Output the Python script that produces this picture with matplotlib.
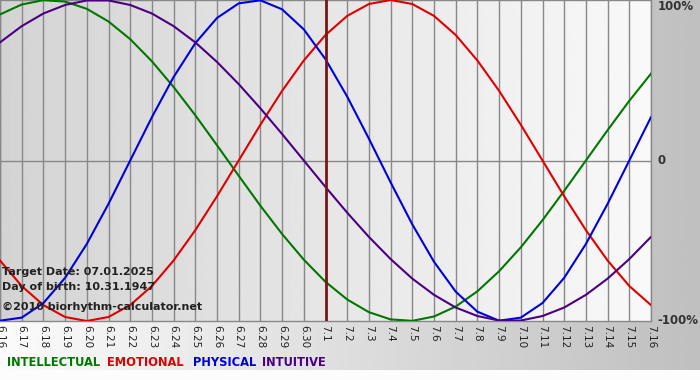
import matplotlib
matplotlib.use("Agg")
import matplotlib.pyplot as plt
import numpy as np

# day labels 6.16 -> 7.16, target day 7.1
days = ["6.16", "6.17", "6.18", "6.19", "6.20", "6.21", "6.22", "6.23", "6.24", "6.25",
        "6.26", "6.27", "6.28", "6.29", "6.30", "7.1", "7.2", "7.3", "7.4", "7.5",
        "7.6", "7.7", "7.8", "7.9", "7.10", "7.11", "7.12", "7.13", "7.14", "7.15", "7.16"]
target_day = "7.1"

# values (-1 .. 1)
physical = [-0.998, -0.979, -0.888, -0.731, -0.520, -0.270, 0.0, 0.270, 0.520, 0.731,
            0.888, 0.979, 0.998, 0.942, 0.817, 0.631, 0.398, 0.136, -0.136, -0.398,
            -0.631, -0.817, -0.942, -0.998, -0.979, -0.888, -0.731, -0.520, -0.270, 0.0, 0.270]
emotional = [-0.623, -0.782, -0.901, -0.975, -1.0, -0.975, -0.901, -0.782, -0.623, -0.434,
             -0.223, 0.0, 0.223, 0.434, 0.623, 0.782, 0.901, 0.975, 1.0, 0.975,
             0.901, 0.782, 0.623, 0.434, 0.223, 0.0, -0.223, -0.434, -0.623, -0.782, -0.901]
intellectual = [0.910, 0.972, 0.999, 0.990, 0.945, 0.866, 0.756, 0.618, 0.458, 0.282,
                0.095, -0.095, -0.282, -0.458, -0.618, -0.756, -0.866, -0.945, -0.990, -0.999,
                -0.972, -0.910, -0.815, -0.690, -0.541, -0.372, -0.189, 0.0, 0.189, 0.372, 0.541]
intuitive = [0.736, 0.837, 0.916, 0.969, 0.997, 0.997, 0.969, 0.916, 0.837, 0.736,
             0.614, 0.476, 0.325, 0.165, 0.0, -0.165, -0.325, -0.476, -0.614, -0.736,
             -0.837, -0.916, -0.969, -0.997, -0.997, -0.969, -0.916, -0.837, -0.736, -0.614, -0.476]

legend_names = ["INTELLECTUAL", "EMOTIONAL", "PHYSICAL", "INTUITIVE"]
colors = {"INTELLECTUAL": "#007800", "EMOTIONAL": "#e00000",
          "PHYSICAL": "#0000dd", "INTUITIVE": "#4b0082"}

W, H = 700, 380
fig = plt.figure(figsize=(W/100, H/100), dpi=100)

# background gradient (white left -> gray right), white strip at bottom
bg = fig.add_axes([0, 0, 1, 1])
bg.set_xlim(0, W)
bg.set_ylim(H, 0)
bg.axis("off")
grad = np.linspace(0.985, 0.75, 256).reshape(1, -1)
bg.imshow(grad, cmap="gray", vmin=0, vmax=1, aspect="auto", extent=[0, W, 370, 0])
bg.axhspan(370, H, color="#fcfcfc", lw=0)

# plot area
pw, ph = 651, 321
ax = fig.add_axes([0, 1 - ph/H, pw/W, ph/H])
x = np.arange(len(days))
ax.set_xlim(0, len(days) - 1)
ax.set_ylim(-1, 1)
inner = np.linspace(0.83, 0.975, 256).reshape(1, -1)
ax.imshow(inner, cmap="gray", vmin=0, vmax=1, aspect="auto",
          extent=[0, len(days) - 1, -1, 1], zorder=0)

for xi in x:
    ax.axvline(xi, color="#888888", lw=1, zorder=1)
ax.axhline(0, color="#888888", lw=1, zorder=1)
ax.axvline(days.index(target_day), color="#7a1616", lw=2, zorder=4)

ax.plot(x, intellectual, color=colors["INTELLECTUAL"], lw=1.5, zorder=3)
ax.plot(x, emotional, color=colors["EMOTIONAL"], lw=1.5, zorder=3)
ax.plot(x, physical, color=colors["PHYSICAL"], lw=1.5, zorder=3)
ax.plot(x, intuitive, color=colors["INTUITIVE"], lw=1.5, zorder=3)

ax.set_xticks(x)
ax.set_xticklabels(days, rotation=270, fontsize=7.5, color="#222222")
ax.tick_params(axis="x", length=0, pad=3)
ax.set_yticks([])
for s in ax.spines.values():
    s.set_color("#888888")
    s.set_linewidth(1)

# right side labels
ax.text(1.01, 1.0, "100%", transform=ax.transAxes, ha="left", va="top",
        fontsize=8.5, fontweight="bold", color="#333333")
ax.text(1.01, 0.5, "0", transform=ax.transAxes, ha="left", va="center",
        fontsize=8.5, fontweight="bold", color="#333333")
ax.text(1.01, 0.0, "-100%", transform=ax.transAxes, ha="left", va="center",
        fontsize=8.5, fontweight="bold", color="#333333")

# info text
info = ["Target Date: 07.01.2025", "Day of birth: 10.31.1947",
        "\u00a92010 biorhythm-calculator.net"]
for txt, py in zip(info, [272, 287, 307]):
    ax.text(2/pw, 1 - py/ph, txt, transform=ax.transAxes, ha="left", va="center",
            fontsize=8, fontweight="bold", color="#222222", zorder=10)

# legend words
lx = [7, 107, 193, 262]
for name, px in zip(legend_names, lx):
    bg.text(px, 362, name, ha="left", va="center", fontsize=8.3,
            fontweight="bold", color=colors[name])

fig.savefig("out.png", dpi=100)
